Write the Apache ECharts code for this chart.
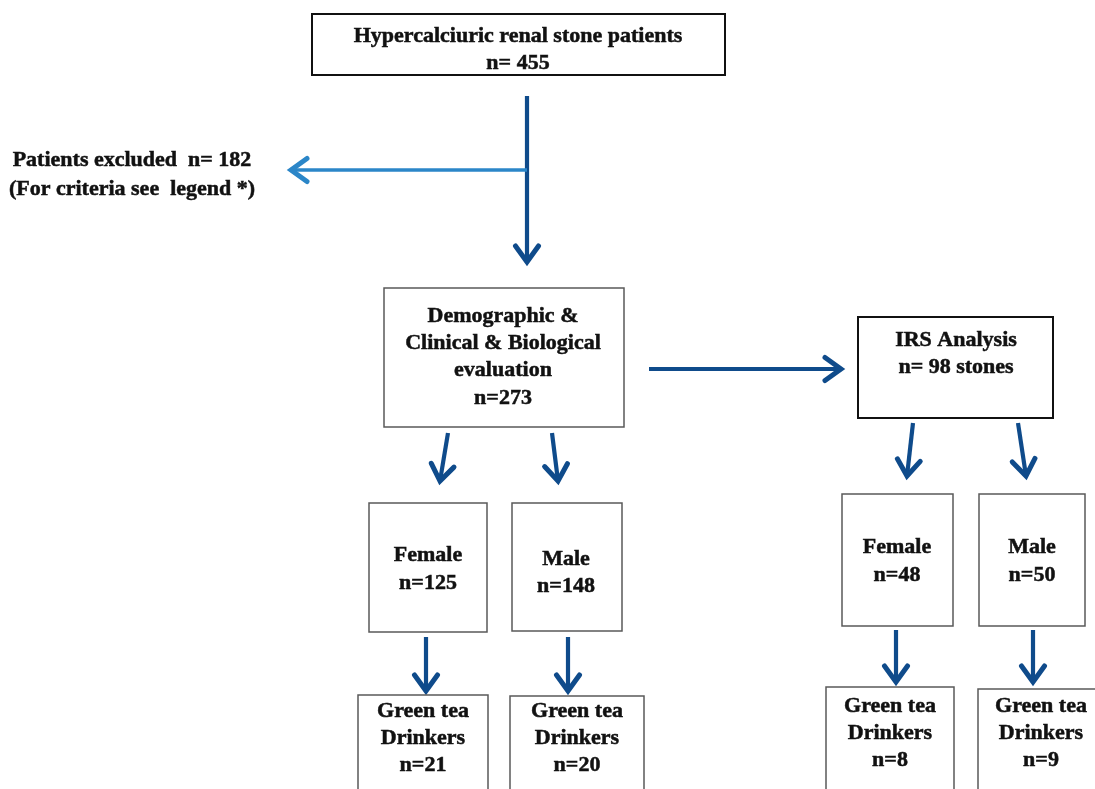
<!DOCTYPE html>
<html><head><meta charset="utf-8">
<script src="https://cdn.jsdelivr.net/npm/echarts@6/dist/echarts.min.js"></script>
<style>html,body{margin:0;padding:0;background:#fff}#c{width:1095px;height:789px}</style>
</head><body><div id="c"></div><script>
// ---- content / data ----
const nodeLabels = [
  'Hypercalciuric renal stone patients\nn= {n}',
  'Patients excluded  n= {n}\n(For criteria see  legend *)',
  'Demographic &\nClinical & Biological\nevaluation\nn={n}',
  'IRS Analysis\nn= {n} stones',
  'Female\nn={n}',
  'Male\nn={n}',
  'Female\nn={n}',
  'Male\nn={n}',
  'Green tea\nDrinkers\nn={n}',
  'Green tea\nDrinkers\nn={n}',
  'Green tea\nDrinkers\nn={n}',
  'Green tea\nDrinkers\nn={n}'
];
const nodeCounts = [455, 182, 273, 98, 125, 148, 48, 50, 21, 20, 8, 9];

// ---- layout (page coordinates) ----
const nodeBoxes = [
  [312, 14, 725, 75], null, [384, 288, 624, 427], [858, 317, 1053, 418],
  [369, 503, 487, 632], [512, 503, 622, 631], [842, 494, 953, 626], [979, 494, 1085, 626],
  [358, 695, 488, 805], [510, 696, 644, 805], [826, 687, 954, 805], [978, 689, 1105, 805]
];
const nodeBoxStyle = ['dark', null, 'grey', 'dark', 'grey', 'grey', 'grey', 'grey', 'grey', 'grey', 'grey', 'grey'];
const nodeTextPos = [
  [518, 36, 27.5], [132, 160, 29], [503, 316, 27.3], [956, 340, 27],
  [428, 555, 28], [566, 559, 27], [897, 547, 28], [1032, 547, 28],
  [423, 711, 27], [577, 711, 27], [890, 706, 27], [1041, 706, 27]
];
const arrows = [
  [527, 96, 527, 262, 'dark'],
  [527, 170, 291, 170, 'light'],
  [649, 369, 841, 369, 'dark'],
  [448, 433, 440, 481, 'dark'],
  [552, 433, 558, 481, 'dark'],
  [426, 637, 426, 691, 'dark'],
  [568, 637, 568, 691, 'dark'],
  [913, 423, 907, 476, 'dark'],
  [1018, 423, 1026, 476, 'dark'],
  [896, 630, 896, 682, 'dark'],
  [1033, 630, 1033, 682, 'dark']
];
const colors = { dark: '#0f4b8b', light: '#2b86c8' };

const chart = echarts.init(document.getElementById('c'), null, { renderer: 'canvas' });
const FONT = '"Liberation Serif", "Times New Roman", serif';

function renderNode(params, api) {
  const i = params.dataIndex;
  const children = [];
  const b = nodeBoxes[i];
  if (b) {
    const p0 = api.coord([b[0], b[1]]);
    const p1 = api.coord([b[2], b[3]]);
    const dark = nodeBoxStyle[i] === 'dark';
    children.push({
      type: 'rect',
      shape: { x: p0[0], y: p0[1], width: p1[0] - p0[0], height: p1[1] - p0[1] },
      style: { fill: '#fff', stroke: dark ? '#111' : '#5a5a5a', lineWidth: dark ? 2 : 1.5 }
    });
  }
  const t = nodeTextPos[i];
  const lines = nodeLabels[i].replace('{n}', String(api.value(1))).split('\n');
  lines.forEach((ln, k) => {
    const p = api.coord([t[0], t[1] + k * t[2]]);
    children.push({
      type: 'text', x: p[0], y: p[1],
      style: { text: ln, fill: '#111', fontFamily: FONT, fontWeight: 'bold', fontSize: 22,
               align: 'center', verticalAlign: 'middle',
               stroke: '#111', lineWidth: 0.5 }
    });
  });
  return { type: 'group', children };
}

function renderArrow(params, api) {
  const a = arrows[params.dataIndex];
  const s = api.coord([a[0], a[1]]);
  const e = api.coord([a[2], a[3]]);
  const dx = e[0] - s[0], dy = e[1] - s[1];
  const len = Math.sqrt(dx * dx + dy * dy);
  const ux = dx / len, uy = dy / len;
  const px = -uy, py = ux;
  const back = 16, side = 11.5;
  const color = colors[a[4]];
  return {
    type: 'group', children: [
      { type: 'line', shape: { x1: s[0], y1: s[1], x2: e[0] - ux * 2, y2: e[1] - uy * 2 },
        style: { stroke: color, lineWidth: a[4] === 'light' ? 3.5 : 4.2 } },
      { type: 'polyline', shape: { points: [
          [e[0] - ux * back + px * side, e[1] - uy * back + py * side],
          [e[0], e[1]],
          [e[0] - ux * back - px * side, e[1] - uy * back - py * side]] },
        style: { stroke: color, fill: 'none', lineWidth: 5, lineJoin: 'miter', lineCap: 'round' } }
    ]
  };
}

chart.setOption({
  animation: false,
  backgroundColor: '#fff',
  grid: { left: 0, right: 0, top: 0, bottom: 0 },
  xAxis: { type: 'value', min: 0, max: 1095, show: false },
  yAxis: { type: 'value', min: 0, max: 789, inverse: true, show: false },
  series: [
    { type: 'custom', silent: true, clip: false, renderItem: renderArrow,
      data: arrows.map((a, i) => [i, 0]) },
    { type: 'custom', silent: true, clip: false, renderItem: renderNode,
      data: nodeCounts.map((n, i) => [i, n]) }
  ]
});
</script></body></html>
